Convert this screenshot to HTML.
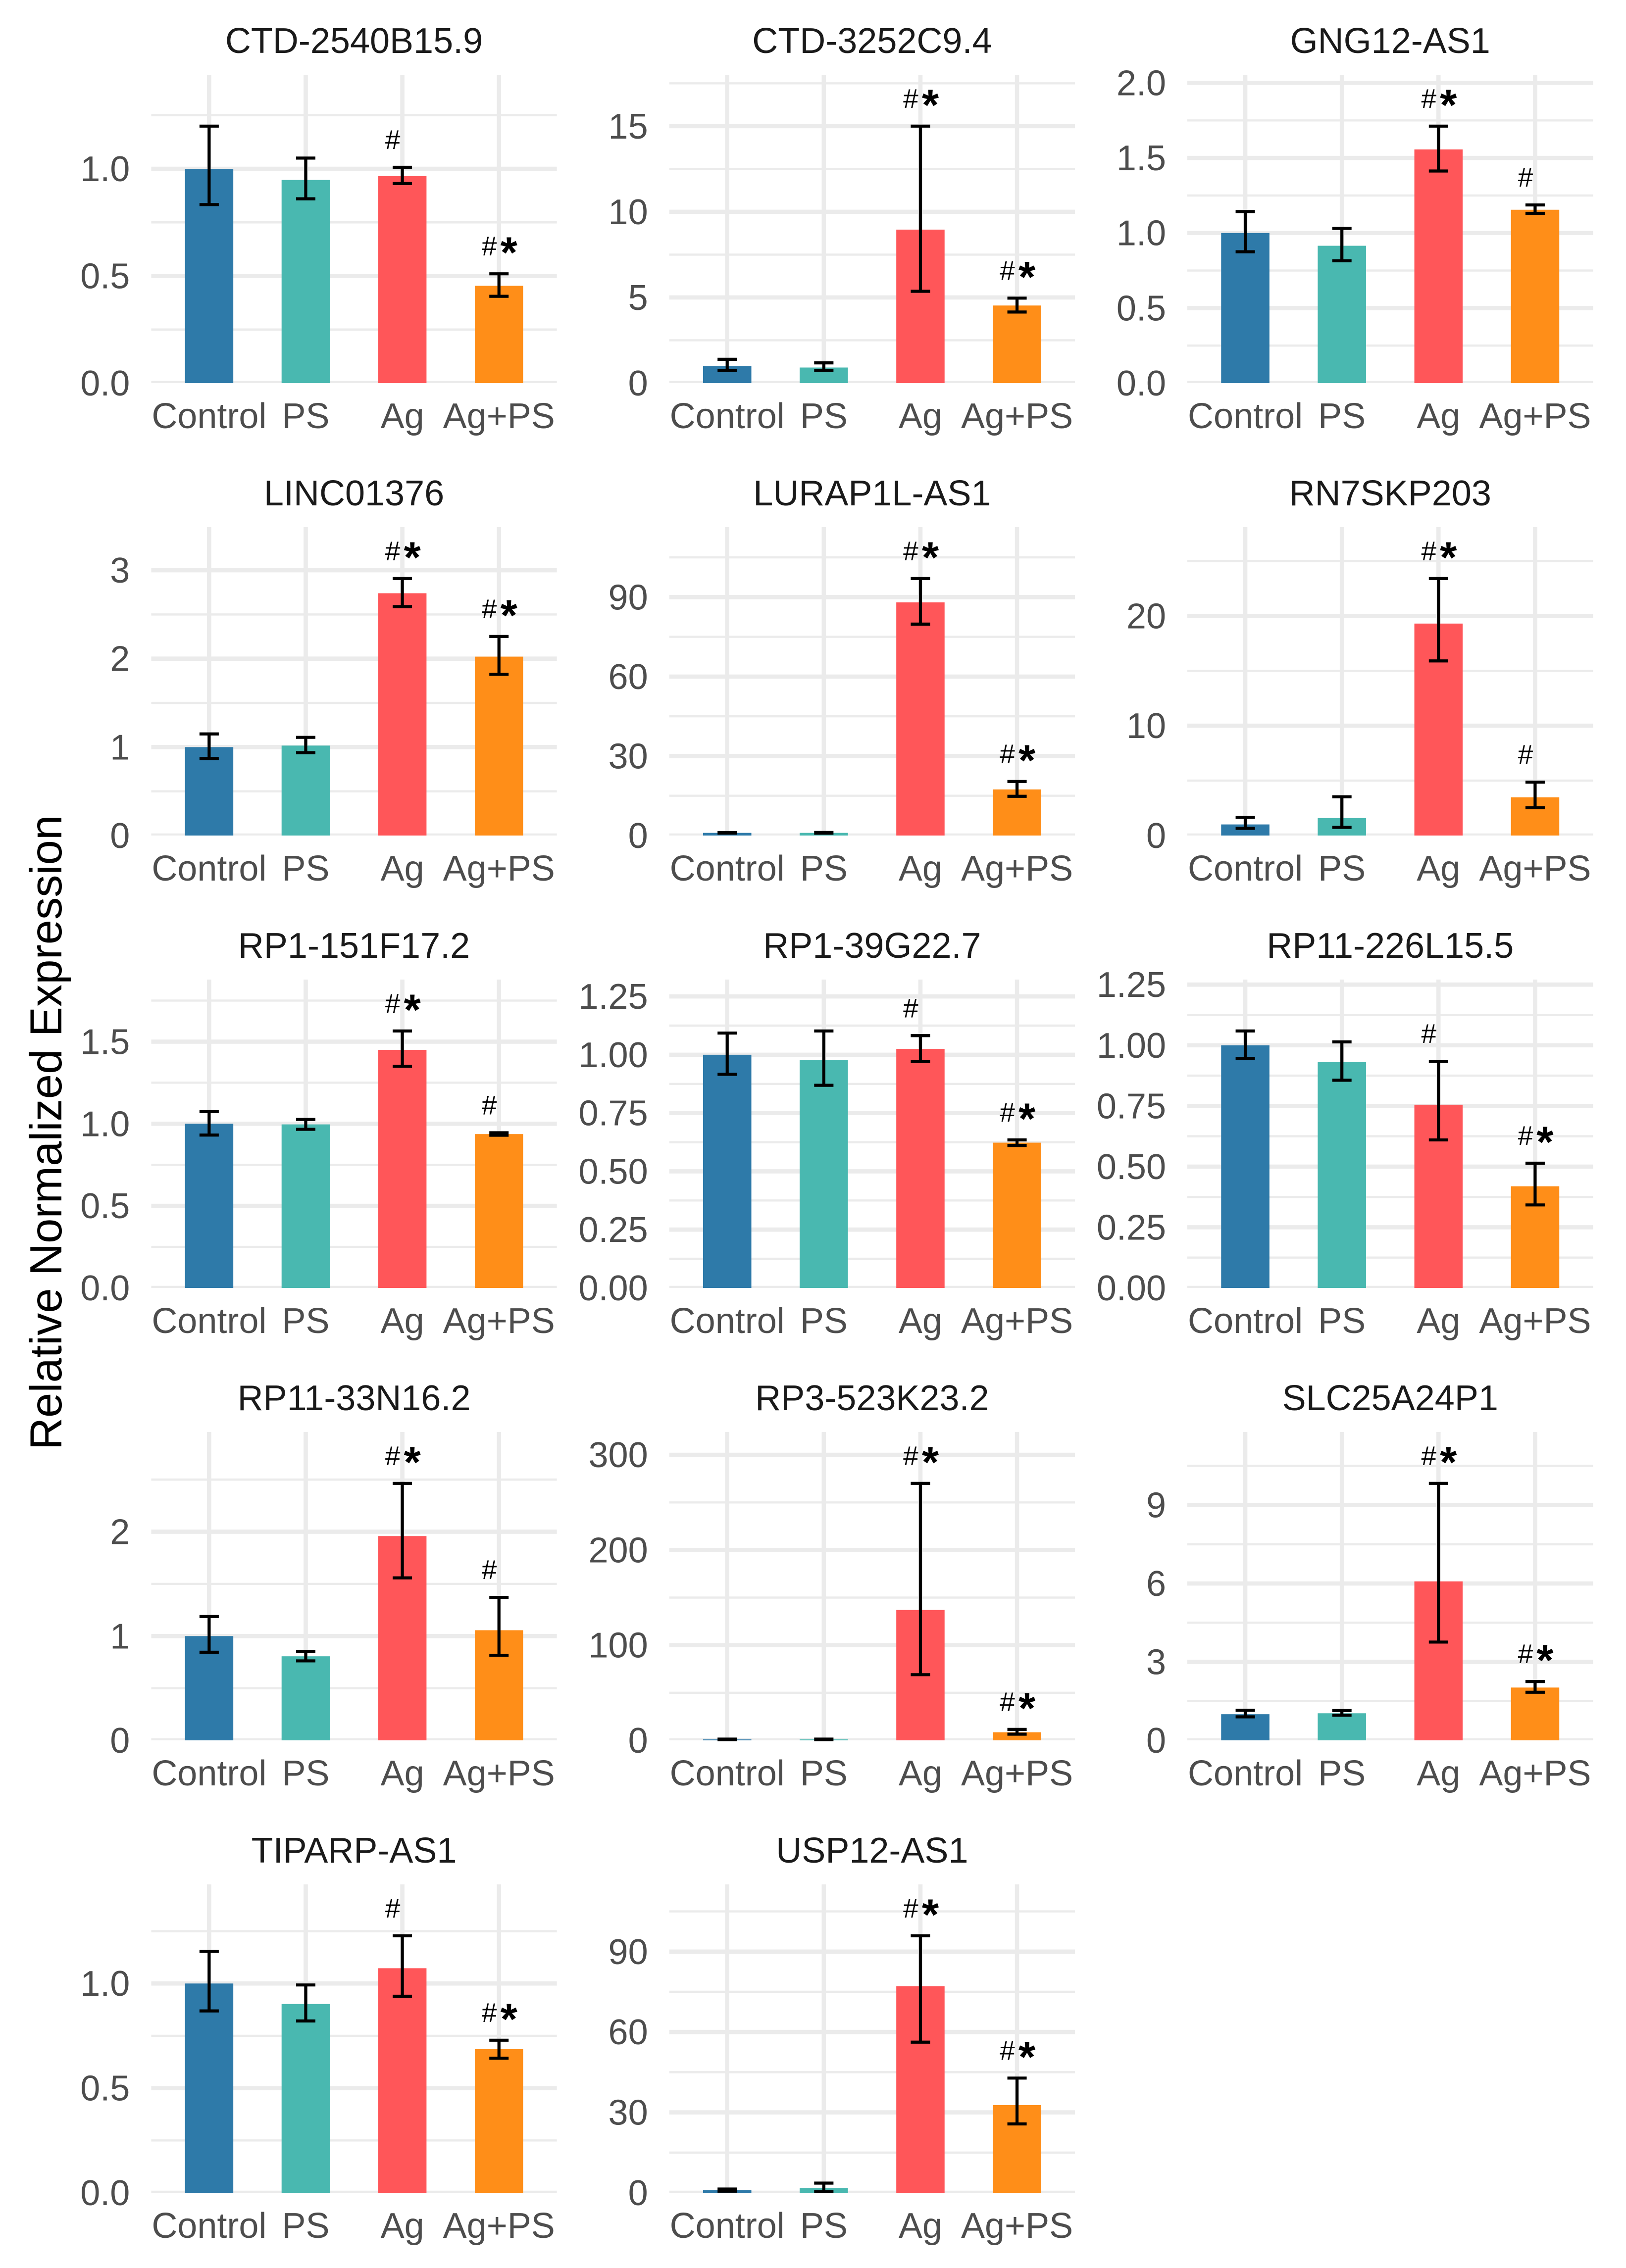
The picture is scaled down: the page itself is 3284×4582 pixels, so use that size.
<!DOCTYPE html>
<html lang="en">
<head>
<meta charset="utf-8">
<title>Relative Normalized Expression</title>
<style>
  html, body { margin: 0; padding: 0; background: #ffffff; }
  svg { display: block; font-family: "Liberation Sans", Arial, sans-serif; }
</style>
</head>
<body>
<svg id="figure" xmlns="http://www.w3.org/2000/svg" width="3284" height="4582" viewBox="0 0 3284 4582">
  <rect x="0" y="0" width="3284" height="4582" fill="#ffffff"/>
  <text transform="translate(124 2288) rotate(-90)" text-anchor="middle" font-size="90.5" fill="#000000">Relative Normalized Expression</text>
</svg>
<script>
const geneTitles = ['CTD-2540B15.9','CTD-3252C9.4','GNG12-AS1','LINC01376','LURAP1L-AS1','RN7SKP203','RP1-151F17.2','RP1-39G22.7','RP11-226L15.5','RP11-33N16.2','RP3-523K23.2','SLC25A24P1','TIPARP-AS1','USP12-AS1'];
const groupLabels = ['Control','PS','Ag','Ag+PS'];
const groupColors = ['#2E7AA9','#49B8B0','#FF5659','#FF8E18'];

const meanValues = [
  [1.0,0.948,0.966,0.454],
  [1.0,0.91,8.96,4.53],
  [1.0,0.915,1.557,1.155],
  [1.0,1.017,2.74,2.023],
  [1.0,1.0,88,17.4],
  [1.01,1.59,19.3,3.48],
  [1.0,0.996,1.45,0.937],
  [1.0,0.978,1.025,0.623],
  [1.0,0.931,0.755,0.419],
  [1.0,0.806,1.959,1.056],
  [1.0,1.0,137,8.5],
  [1.0,1.036,6.08,2.02],
  [1.0,0.902,1.073,0.686],
  [1.0,1.8,77.1,32.7]
];
const upperValues = [
  [1.199,1.05,1.007,0.51],
  [1.39,1.18,15.0,4.96],
  [1.143,1.031,1.712,1.187],
  [1.149,1.11,2.906,2.251],
  [1.12,1.14,97.0,20.4],
  [1.66,3.53,23.4,4.86],
  [1.074,1.026,1.565,0.945],
  [1.093,1.102,1.082,0.635],
  [1.059,1.014,0.934,0.514],
  [1.187,0.852,2.464,1.371],
  [1.3,1.3,270,11.5],
  [1.15,1.14,9.83,2.25],
  [1.154,0.993,1.228,0.729],
  [1.4,3.6,95.9,42.8]
];
const lowerValues = [
  [0.833,0.86,0.931,0.405],
  [0.74,0.74,5.36,4.15],
  [0.875,0.815,1.413,1.131],
  [0.871,0.937,2.589,1.823],
  [0.9,0.88,79.8,14.8],
  [0.65,0.74,15.9,2.53],
  [0.931,0.966,1.35,0.93],
  [0.916,0.869,0.971,0.611],
  [0.946,0.856,0.61,0.342],
  [0.845,0.762,1.558,0.816],
  [0.7,0.7,69,6.5],
  [0.9,0.96,3.76,1.84],
  [0.869,0.821,0.939,0.643],
  [0.6,0.4,56.2,25.7]
];
const significanceMarks = [
  ['','','#','#*'],
  ['','','#*','#*'],
  ['','','#*','#'],
  ['','','#*','#*'],
  ['','','#*','#*'],
  ['','','#*','#'],
  ['','','#*','#'],
  ['','','#','#*'],
  ['','','#','#*'],
  ['','','#*','#'],
  ['','','#*','#*'],
  ['','','#*','#*'],
  ['','','#','#*'],
  ['','','#*','#*']
];
const tickLabels = [
  ['0.0','0.5','1.0'],
  ['0','5','10','15'],
  ['0.0','0.5','1.0','1.5','2.0'],
  ['0','1','2','3'],
  ['0','30','60','90'],
  ['0','10','20'],
  ['0.0','0.5','1.0','1.5'],
  ['0.00','0.25','0.50','0.75','1.00','1.25'],
  ['0.00','0.25','0.50','0.75','1.00','1.25'],
  ['0','1','2'],
  ['0','100','200','300'],
  ['0','3','6','9'],
  ['0.0','0.5','1.0'],
  ['0','30','60','90']
];

const SVG_NS = 'http://www.w3.org/2000/svg';
const figure = document.getElementById('figure');
const COLS = 3;
const panelW = 819.5, panelH = 623;
const colLeft = c => 305.3 + 1046.35 * c;
const rowZero = r => 774 + 914 * r;

function node(parent, tag, attrs) {
  const n = document.createElementNS(SVG_NS, tag);
  for (const k in attrs) n.setAttribute(k, attrs[k]);
  parent.appendChild(n);
  return n;
}

const defs = node(figure, 'defs', {});

geneTitles.forEach((title, p) => {
  const col = p % COLS, row = Math.floor(p / COLS);
  const left = colLeft(col), zero = rowZero(row), top = zero - panelH;
  const yMax = 1.2 * Math.max(...upperValues[p]);
  const yScale = v => zero - (v / yMax) * panelH;
  const step = panelW / 4.2;
  const xScale = i => left + step * (0.6 + i);

  const g = node(figure, 'g', {});
  
  

  const clip = node(defs, 'clipPath', { id: 'clip-' + p });
  node(clip, 'rect', { x: left, y: top, width: panelW, height: panelH });
  const grid = node(g, 'g', { 'clip-path': 'url(#clip-' + p + ')' });
  
  

  const majors = tickLabels[p].map(Number);
  const gap = majors[1] - majors[0];
  for (let m = gap / 2; m < yMax; m += gap) {
    const el = node(grid, 'line', { x1: left, x2: left + panelW, y1: yScale(m), y2: yScale(m), stroke: '#ebebeb', 'stroke-width': 4.4 });
    
    
  }
  majors.forEach(m => {
    const el = node(grid, 'line', { x1: left, x2: left + panelW, y1: yScale(m), y2: yScale(m), stroke: '#ebebeb', 'stroke-width': 8.6 });
    
    
  });
  groupLabels.forEach((_, i) => {
    const el = node(grid, 'line', { x1: xScale(i), x2: xScale(i), y1: top, y2: zero, stroke: '#ebebeb', 'stroke-width': 8.6 });
    
    
  });

  tickLabels[p].forEach(label => {
    const el = node(g, 'text', { x: left - 43, y: yScale(Number(label)) + 25, 'text-anchor': 'end', 'font-size': 72, fill: '#4d4d4d' });
    el.textContent = label;
    
    
  });

  groupLabels.forEach((label, i) => {
    const cx = xScale(i);
    const bw = step * 0.5;

    const bar = node(g, 'rect', { x: cx - bw / 2, y: yScale(meanValues[p][i]), width: bw, height: zero - yScale(meanValues[p][i]), fill: groupColors[i] });
    
    

    const yHi = yScale(upperValues[p][i]), yLo = yScale(lowerValues[p][i]);
    const capW = step * 0.2;
    const err = node(g, 'path', {
      d: 'M' + (cx - capW / 2) + ' ' + yHi + 'H' + (cx + capW / 2) + 'M' + cx + ' ' + yHi + 'V' + yLo + 'M' + (cx - capW / 2) + ' ' + yLo + 'H' + (cx + capW / 2),
      fill: 'none', stroke: '#000000', 'stroke-width': 6.2
    });
    
    

    const tick = node(g, 'text', { x: cx, y: zero + 91, 'text-anchor': 'middle', 'font-size': 72, fill: '#4d4d4d' });
    tick.textContent = label;
    
    

    const mark = significanceMarks[p][i];
    const baseY = yHi - 37;
    if (mark.includes('#')) {
      const hash = node(g, 'text', { x: cx - 19.5, y: baseY, 'text-anchor': 'middle', 'font-size': 55, fill: '#000000' });
      hash.textContent = '#';
      
      
    }
    if (mark.includes('*')) {
      const star = node(g, 'text', { x: cx + 20, y: baseY + 24, 'text-anchor': 'middle', 'font-size': 88, 'font-weight': 'bold', fill: '#000000' });
      star.textContent = '*';
      
      
    }
  });

  const heading = node(g, 'text', { x: left + panelW / 2, y: zero - 667, 'text-anchor': 'middle', 'font-size': 72, fill: '#1a1a1a' });
  heading.textContent = title;
  
  
});
</script>
</body>
</html>
